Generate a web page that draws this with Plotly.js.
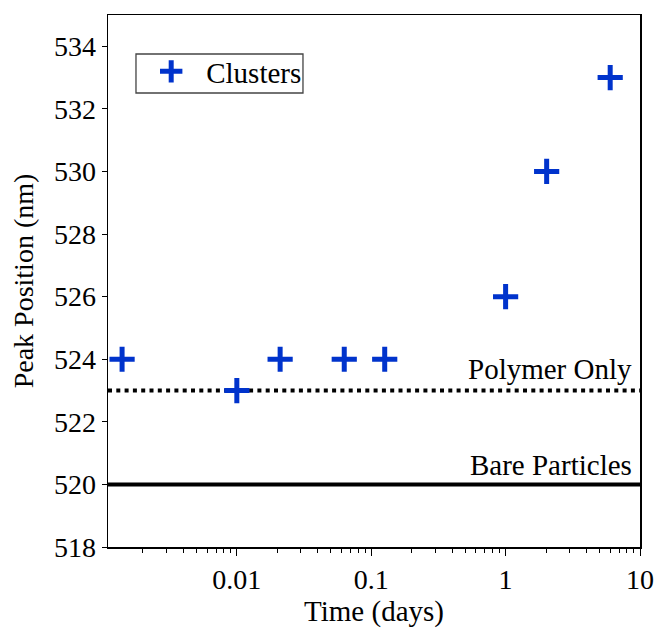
<!DOCTYPE html>
<html><head><meta charset="utf-8">
<script src="https://cdn.plot.ly/plotly-3.0.1.min.js"></script>
<style>body{margin:0;padding:0;background:#fff}#chart{width:657px;height:628px}</style>
</head><body><div id="chart"></div>
<script>
const timeDays = [0.0014, 0.01, 0.021, 0.063, 0.126, 1, 2.02, 6.0];
const peakNm = [524, 523, 524, 524, 524, 526, 530, 533];
const seriesName = 'Clusters';
const refLevels = [523, 520];
const refLabels = ['Polymer Only', 'Bare Particles'];
const refDash = ['4px,4.3px', 'solid'];
const refWidth = [4, 4];
const xTickVals = [0.01, 0.1, 1, 10];
const xTickText = ['0.01', '0.1', '1', '10'];
const yTickVals = [518, 520, 522, 524, 526, 528, 530, 532, 534];

const minorVals = [];
for (let e = -3; e <= 0; e++) for (let m = 2; m <= 9; m++) minorVals.push(m * Math.pow(10, e));

const font = 'Liberation Serif';
const shapes = refLevels.map((y, i) => ({
  type: 'line', layer: 'below', xref: 'paper', x0: 0, x1: 1, yref: 'y', y0: y, y1: y,
  line: {color: '#000', width: refWidth[i], dash: refDash[i]}
}));
// legend frame
shapes.push({type: 'rect', xref: 'paper', yref: 'paper', x0: 0.0526, x1: 0.3665, y0: 0.8534, y1: 0.9267,
  line: {color: '#444', width: 1.3}, fillcolor: 'rgba(0,0,0,0)'});
const annotations = refLevels.map((y, i) => ({
  xref: 'paper', x: 0.988, yref: 'y', y: y, xanchor: 'right', yanchor: 'bottom',
  yshift: i === 0 ? 4 : 1, text: refLabels[i], showarrow: false, font: {family: font, size: 29, color: '#000'}
}));

Plotly.newPlot('chart', [{
  x: timeDays, y: peakNm, type: 'scatter', mode: 'markers', name: seriesName,
  marker: {symbol: 'cross-thin', size: 18, line: {width: 5, color: '#0033cc'}, color: '#0033cc'}
}], {
  width: 657, height: 628,
  margin: {l: 108, r: 17, t: 15, b: 81},
  paper_bgcolor: '#fff', plot_bgcolor: '#fff',
  font: {family: font, color: '#000'},
  showlegend: true,
  legend: {x: 0.053, y: 0.9417, xanchor: 'left', yanchor: 'top', borderwidth: 0,
    itemwidth: 60, tracegroupgap: 0,
    bgcolor: 'rgba(255,255,255,0)', font: {family: font, size: 29, color: '#000'}},
  xaxis: {type: 'log', range: [Math.log10(0.0011), 1], tickvals: xTickVals, ticktext: xTickText,
    ticks: 'outside', ticklen: 7, tickwidth: 1, tickcolor: '#000',
    minor: {tickvals: minorVals, ticks: 'outside', ticklen: 4, tickcolor: '#000', showgrid: false},
    showline: true, linecolor: '#000', linewidth: 1.5, mirror: true, showgrid: false, zeroline: false,
    tickfont: {family: font, size: 28, color: '#000'},
    title: {text: 'Time (days)', font: {family: font, size: 29, color: '#000'}, standoff: 4}},
  yaxis: {range: [518, 535], tickvals: yTickVals,
    ticks: 'outside', ticklen: 5, tickwidth: 1, tickcolor: '#000',
    showline: true, linecolor: '#000', linewidth: 1.5, mirror: true, showgrid: false, zeroline: false,
    tickfont: {family: font, size: 28, color: '#000'},
    title: {text: 'Peak Position (nm)', font: {family: font, size: 28, color: '#000'}, standoff: 12}},
  shapes: shapes, annotations: annotations
}, {displayModeBar: false, staticPlot: true});
</script></body></html>
